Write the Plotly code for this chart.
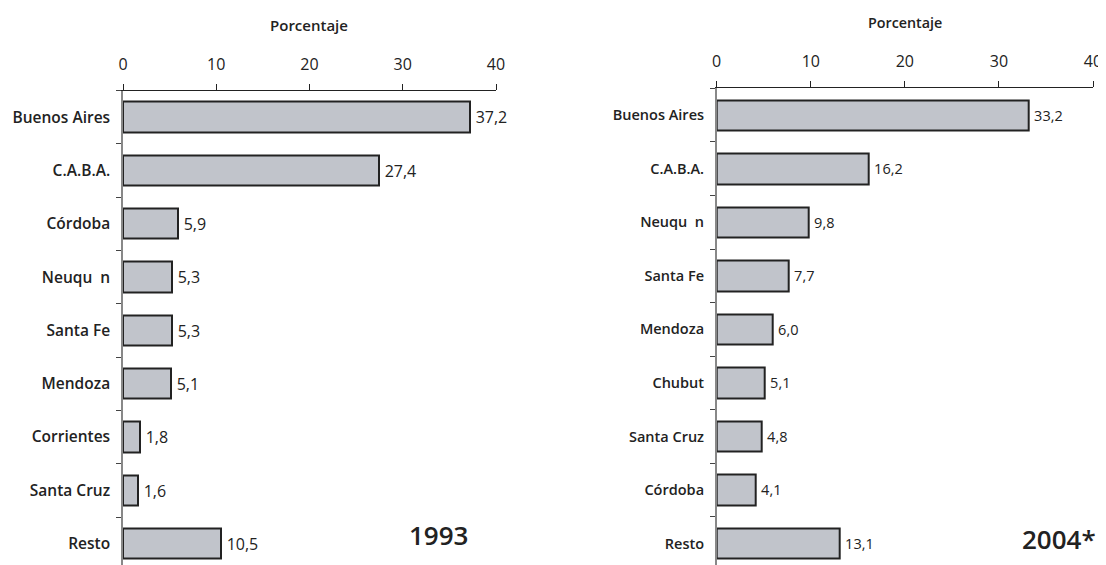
import plotly.graph_objects as go

cats_1993 = ["Buenos Aires", "C.A.B.A.", "Córdoba", "Neuqu  n", "Santa Fe", "Mendoza", "Corrientes", "Santa Cruz", "Resto"]
vals_1993 = [37.2, 27.4, 5.9, 5.3, 5.3, 5.1, 1.8, 1.6, 10.5]

cats_2004 = ["Buenos Aires", "C.A.B.A.", "Neuqu  n", "Santa Fe", "Mendoza", "Chubut", "Santa Cruz", "Córdoba", "Resto"]
vals_2004 = [33.2, 16.2, 9.8, 7.7, 6.0, 5.1, 4.8, 4.1, 13.1]

x_ticks = [0, 10, 20, 30, 40]
axis_title = "Porcentaje"
year_labels = ["1993", "2004*"]

FONT = "Open Sans"
BAR_FILL = "#c1c4cb"
BAR_LINE = "#222222"
WIN_W, WIN_H = 1106, 565
OFF = 8  # page body margin
W, H = WIN_W - OFF, WIN_H - OFF


def px(x):
    return (x - OFF) / W


def py(y):
    return 1 - (y - OFF) / H


fig = go.Figure()

fig.add_trace(go.Bar(
    y=cats_1993, x=vals_1993, orientation="h", xaxis="x", yaxis="y",
    marker=dict(color=BAR_FILL, line=dict(color=BAR_LINE, width=2)),
    width=0.57, text=vals_1993, texttemplate="\u2009%{x:.1f}", textposition="outside",
    textfont=dict(family=FONT, size=16, color="#222"), cliponaxis=False,
))
fig.add_trace(go.Bar(
    y=cats_2004, x=vals_2004, orientation="h", xaxis="x2", yaxis="y2",
    marker=dict(color=BAR_FILL, line=dict(color=BAR_LINE, width=2)),
    width=0.57, text=vals_2004, texttemplate="\u2009%{x:.1f}", textposition="outside",
    textfont=dict(family=FONT, size=14.5, color="#222"), cliponaxis=False,
))


def xaxis_cfg(domain, anchor, fs, standoff):
    return dict(domain=domain, anchor=anchor, side="top", range=[0, 40],
                tickvals=x_ticks, ticks="outside", ticklen=6, tickcolor="#222",
                showline=True, linecolor="#222", linewidth=1, showgrid=False,
                zeroline=False, tickfont=dict(family=FONT, size=fs, color="#222"),
                ticklabelstandoff=standoff, automargin=False, fixedrange=True)


def yaxis_cfg(domain, anchor, cats, fs):
    return dict(domain=domain, anchor=anchor, type="category", categoryorder="array",
                categoryarray=cats, range=[8.4, -0.5], tickson="boundaries",
                ticks="outside", ticklen=5, tickcolor="#444", showline=True,
                linecolor="#888", linewidth=1.5, showgrid=False,
                tickfont=dict(family=FONT, size=fs, color="#222", weight=600),
                ticklabelstandoff=8, automargin=False, fixedrange=True)


left_dom = [px(123), px(496)]
right_dom = [px(716.7), px(1093)]

fig.update_layout(
    width=W, height=H, margin=dict(l=0, r=0, t=0, b=0, autoexpand=False),
    paper_bgcolor="white", plot_bgcolor="white", showlegend=False,
    separators=",.", bargap=0,
    font=dict(family=FONT, color="#222"),
    xaxis=xaxis_cfg(left_dom, "y", 16, 7),
    yaxis=yaxis_cfg([0, py(90.5)], "x", cats_1993, 15.5),
    xaxis2=xaxis_cfg(right_dom, "y2", 16, 8),
    yaxis2=yaxis_cfg([0, py(88.4)], "x2", cats_2004, 14.5),
)

ann_common = dict(xref="paper", yref="paper", showarrow=False,
                  xanchor="center", yanchor="middle")
fig.add_annotation(x=sum(left_dom) / 2, y=py(25), text=axis_title,
                   font=dict(family=FONT, size=15, color="#222", weight=600), **ann_common)
fig.add_annotation(x=sum(right_dom) / 2, y=py(23), text=axis_title,
                   font=dict(family=FONT, size=14.3, color="#222", weight=600), **ann_common)
fig.add_annotation(x=px(439), y=py(535), text=year_labels[0],
                   font=dict(family=FONT, size=26, color="#222", weight=600), **ann_common)
fig.add_annotation(x=px(1059), y=py(539), text=year_labels[1],
                   font=dict(family=FONT, size=26, color="#222", weight=600), **ann_common)

fig.write_html("out.html")
